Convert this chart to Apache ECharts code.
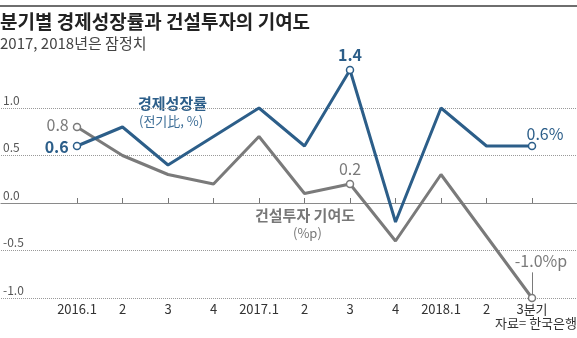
<!DOCTYPE html>
<html><head><meta charset="utf-8">
<script src="https://cdn.jsdelivr.net/npm/echarts@6/dist/echarts.min.js"></script>
<style>html,body{margin:0;padding:0;background:#fff}#c{width:577px;height:338px}</style>
</head><body><div id="c"></div>
<script>
var categories = ['2016Q1','2016Q2','2016Q3','2016Q4','2017Q1','2017Q2','2017Q3','2017Q4','2018Q1','2018Q2','2018Q3'];
var tickLabels = ['2016.1','2','3','4','2017.1','2','3','4','2018.1','2','3분기'];
var gdpGrowth = [0.6, 0.8, 0.4, 0.7, 1.0, 0.6, 1.4, -0.2, 1.0, 0.6, 0.6];
var constructionContrib = [0.8, 0.5, 0.3, 0.2, 0.7, 0.1, 0.2, -0.4, 0.3, -0.35, -1.0];
var yTicks = [-1.0, -0.5, 0.0, 0.5, 1.0];

var FONT = '"Noto Sans CJK KR", "Noto Sans", sans-serif';
var BLUE = '#2c5e89';
var GRAY = '#7a7a7a';

function mkData(vals, color, labels) {
  return vals.map(function (v, i) {
    var lab = labels[i];
    if (!lab) return { value: v, symbol: 'none' };
    return {
      value: v,
      symbol: 'circle', symbolSize: 7,
      itemStyle: { color: '#fff', borderColor: color, borderWidth: 1.5 },
      label: Object.assign({ show: true, color: color, fontFamily: FONT, fontSize: 16 }, lab)
    };
  });
}

var blueLabels = {};
blueLabels[0] = { formatter: String(gdpGrowth[0]), position: 'left', distance: 4, fontWeight: 'bold', offset: [0, 1] };
blueLabels[6] = { formatter: String(gdpGrowth[6]), position: 'top', distance: 3, fontWeight: 'bold' };
blueLabels[10] = { formatter: gdpGrowth[10] + '%', position: 'top', distance: 1, offset: [13, 1] };
var grayLabels = {};
grayLabels[0] = { formatter: String(constructionContrib[0]), position: 'left', distance: 4, offset: [0, -2] };
grayLabels[6] = { formatter: String(constructionContrib[6]), position: 'top', distance: 3 };
grayLabels[10] = { formatter: constructionContrib[10].toFixed(1) + '%p', position: 'top', distance: 25, offset: [9, 0] };

var chart = echarts.init(document.getElementById('c'), null, { renderer: 'canvas' });
chart.setOption({
  animation: false,
  textStyle: { fontFamily: FONT },
  grid: [
    { left: 0, right: 0, top: 108, bottom: 40 },
    { left: 77, right: 45, top: 108, bottom: 40 }
  ],
  xAxis: [
    { gridIndex: 0, type: 'value', min: 0, max: 1,
      axisLine: { show: true, onZero: true, lineStyle: { color: '#8a8a8a', width: 1.2 } },
      axisTick: { show: false }, axisLabel: { show: false }, splitLine: { show: false } },
    { gridIndex: 1, type: 'category', data: categories, boundaryGap: false,
      axisLine: { show: false },
      axisTick: { show: true, inside: true, length: 5, interval: 0, lineStyle: { color: '#777', width: 1 } },
      axisLabel: { interval: 0, margin: 5, color: '#333', fontSize: 13, fontFamily: FONT,
        formatter: function (v, i) { return tickLabels[i]; } } }
  ],
  yAxis: [
    { gridIndex: 0, type: 'value', min: yTicks[0], max: yTicks[yTicks.length - 1], interval: 0.5,
      axisLine: { show: false }, axisTick: { show: false },
      axisLabel: { inside: true, margin: 2, verticalAlign: 'bottom', padding: [0, 0, 2, 0], color: '#555', fontSize: 12, fontFamily: FONT,
        formatter: function (v) { return v.toFixed(1); } },
      splitLine: { show: true, lineStyle: { type: 'dotted', color: '#999', width: 1 } } },
    { gridIndex: 1, type: 'value', min: yTicks[0], max: yTicks[yTicks.length - 1], show: false }
  ],
  series: [
    { type: 'line', xAxisIndex: 1, yAxisIndex: 1, clip: false, z: 3,
      showSymbol: true, showAllSymbol: true, symbol: 'none',
      lineStyle: { color: GRAY, width: 3 }, itemStyle: { color: GRAY },
      data: mkData(constructionContrib, GRAY, grayLabels),
      markLine: { silent: true, symbol: 'none', label: { show: false },
        lineStyle: { color: GRAY, width: 1, type: 'solid' },
        data: [[{ coord: [10, -0.96] }, { coord: [10, -0.73] }]] } },
    { type: 'line', xAxisIndex: 1, yAxisIndex: 1, clip: false, z: 4,
      showSymbol: true, showAllSymbol: true, symbol: 'none',
      lineStyle: { color: BLUE, width: 3 }, itemStyle: { color: BLUE },
      data: mkData(gdpGrowth, BLUE, blueLabels) }
  ],
  graphic: [
    { type: 'rect', left: 0, top: 5, shape: { width: 577, height: 2 }, style: { fill: '#6e6e6e' } },
    { type: 'text', left: 0, top: 12, style: { text: '분기별 경제성장률과 건설투자의 기여도', font: 'bold 19px ' + FONT, fill: '#222' } },
    { type: 'text', left: 0, top: 36, style: { text: '2017, 2018년은 잠정치', font: '15px ' + FONT, fill: '#444' } },
    { type: 'text', left: 138, top: 96, style: { text: '경제성장률', font: 'bold 15px ' + FONT, fill: BLUE } },
    { type: 'text', left: 139, top: 115, style: { text: '(전기比, %)', font: '13px ' + FONT, fill: '#3d6e97' } },
    { type: 'text', left: 255, top: 208, style: { text: '건설투자 기여도', font: 'bold 15px ' + FONT, fill: '#777' } },
    { type: 'text', left: 293, top: 227, style: { text: '(%p)', font: '13px ' + FONT, fill: '#777' } },
    { type: 'text', right: 0, top: 317, style: { text: '자료= 한국은행', font: '13px ' + FONT, fill: '#333' } }
  ]
});
</script></body></html>
